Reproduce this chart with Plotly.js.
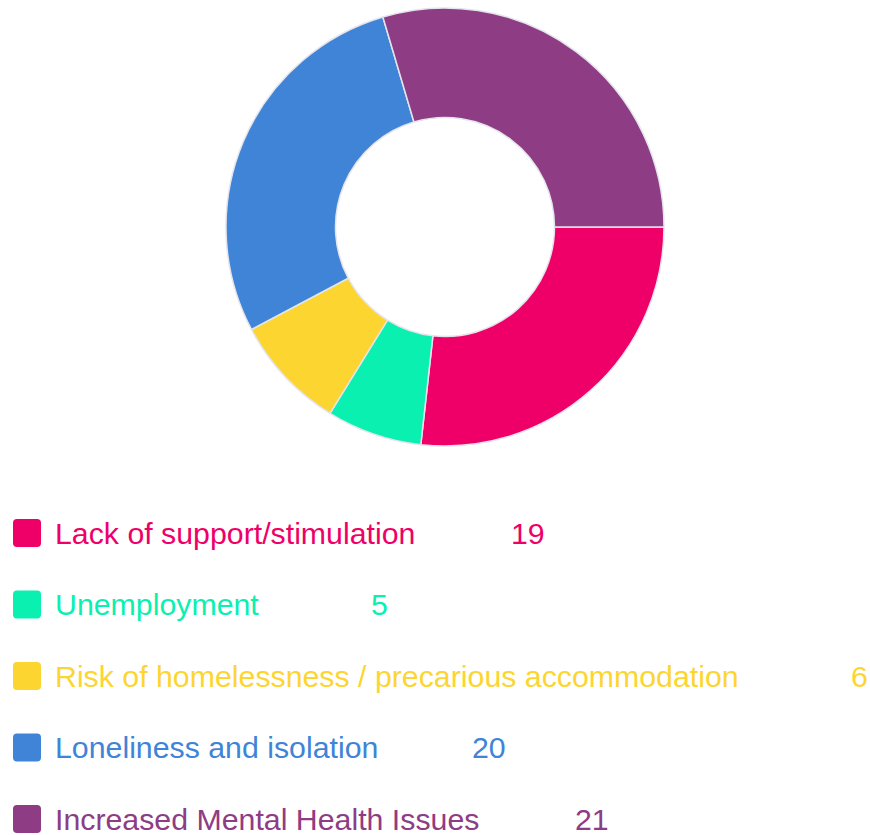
<!DOCTYPE html>
<html>
<head>
<meta charset="utf-8">
<script src="https://cdn.plot.ly/plotly-3.0.1.min.js"></script>
<style>
  html, body { margin: 0; padding: 0; background: #ffffff; }
  #chart { width: 870px; height: 835px; }
</style>
</head>
<body>
<div id="chart"></div>
<script>
const categories = [
  "Lack of support/stimulation",
  "Unemployment",
  "Risk of homelessness / precarious accommodation",
  "Loneliness and isolation",
  "Increased Mental Health Issues"
];
const counts = [19, 5, 6, 20, 21];
const colors = ["#EF0068", "#0AF0B0", "#FDD531", "#4084D7", "#8E3C84"];

const W = 870, H = 835;
const FONT = "'Liberation Sans', Arial, Helvetica, sans-serif";
const FSIZE = 30.3;

// layout spacing (pixels) between each legend label and its count
const valueGaps = [96, 112, 112, 94, 96];

const canvas = document.createElement("canvas");
const ctx = canvas.getContext("2d");
ctx.font = FSIZE + "px 'Liberation Sans', Arial";

const rowTop = 533, rowStep = 71.5;
const labelX = 53, swatchX = 27, half = 14, rad = 4;

const shapes = [];
const annotations = [];
categories.forEach(function (cat, i) {
  const py = rowTop + i * rowStep;
  const yPaper = 1 - py / H;
  const p = "M " + (-half + rad) + "," + (-half) +
    " L " + (half - rad) + "," + (-half) +
    " Q " + half + "," + (-half) + " " + half + "," + (-half + rad) +
    " L " + half + "," + (half - rad) +
    " Q " + half + "," + half + " " + (half - rad) + "," + half +
    " L " + (-half + rad) + "," + half +
    " Q " + (-half) + "," + half + " " + (-half) + "," + (half - rad) +
    " L " + (-half) + "," + (-half + rad) +
    " Q " + (-half) + "," + (-half) + " " + (-half + rad) + "," + (-half) + " Z";
  shapes.push({
    type: "path", xref: "paper", yref: "paper",
    xsizemode: "pixel", ysizemode: "pixel",
    xanchor: swatchX / W, yanchor: yPaper,
    path: p, fillcolor: colors[i], line: { width: 0 }, layer: "above"
  });
  annotations.push({
    xref: "paper", yref: "paper", x: labelX / W, y: yPaper,
    xanchor: "left", yanchor: "middle", showarrow: false,
    text: cat, font: { family: FONT, size: FSIZE, color: colors[i] }
  });
  const w = ctx.measureText(cat).width;
  annotations.push({
    xref: "paper", yref: "paper", x: (labelX + w + valueGaps[i]) / W, y: yPaper,
    xanchor: "left", yanchor: "middle", showarrow: false,
    text: String(counts[i]), font: { family: FONT, size: FSIZE, color: colors[i] }
  });
});

const cx = 445, cy = 227, r = 219;
const trace = {
  type: "pie",
  labels: categories,
  values: counts,
  sort: false,
  direction: "clockwise",
  rotation: 90,
  hole: 0.5,
  textinfo: "none",
  marker: { colors: colors, line: { color: "#E4E4EC", width: 1.5 } },
  domain: {
    x: [(cx - r - 40) / W, (cx + r + 40) / W],
    y: [1 - (cy + r) / H, 1 - (cy - r) / H]
  }
};

const layout = {
  width: W, height: H,
  margin: { l: 0, r: 0, t: 0, b: 0 },
  paper_bgcolor: "#ffffff",
  plot_bgcolor: "#ffffff",
  showlegend: false,
  shapes: shapes,
  annotations: annotations,
  font: { family: FONT }
};

Plotly.newPlot("chart", [trace], layout, { displayModeBar: false, staticPlot: true });
</script>
</body>
</html>
